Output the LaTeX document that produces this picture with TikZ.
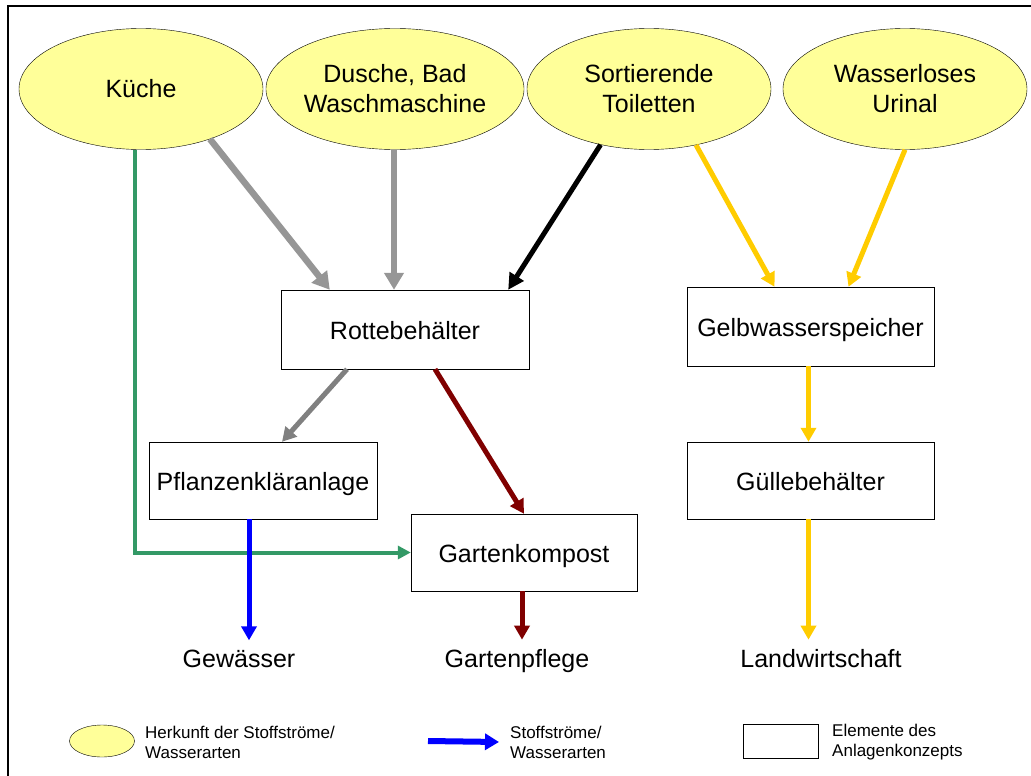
\documentclass[tikz,border=0pt]{standalone}
\usepackage{fontspec}
\setmainfont{Liberation Sans}
\usetikzlibrary{shapes.geometric,arrows.meta}
\definecolor{herkunft}{HTML}{FFFF99}
\definecolor{grauarr}{HTML}{969696}
\definecolor{dunkelgrau}{HTML}{808080}
\definecolor{gruenarr}{HTML}{339966}
\definecolor{blauarr}{HTML}{0000FF}
\definecolor{braunarr}{HTML}{800000}
\definecolor{gelbarr}{HTML}{FFCC00}
\begin{document}
\begin{tikzpicture}[x=1pt,y=-1pt,
    source/.style={ellipse,draw,fill=herkunft,minimum width=244pt,minimum height=121pt,inner sep=0pt,align=center,font=\fontsize{25}{30}\selectfont},
    element/.style={rectangle,draw,minimum width=247pt,minimum height=79pt,inner sep=2pt,text height=19pt,text depth=0pt,font=\fontsize{25}{30}\selectfont},
    sink/.style={anchor=base,inner sep=9pt,font=\fontsize{25}{30}\selectfont},
    legtext/.style={anchor=west,align=left,inner sep=2pt,font=\fontsize{17}{20}\selectfont},
    flow/.style={line width=5pt,-{Triangle[length=14pt,width=15pt]}},
    bigflow/.style={line width=6.5pt,draw=grauarr,-{Triangle[length=17pt,width=19pt]}}]
    \useasboundingbox (0,0) rectangle (1031,776);
    \draw[line width=2.5pt] (8,776) -- (8,6) -- (1031,6);
    \node[source] (kueche) at (141,89) {Küche};
    \node[source] (dusche) at (395,89) {Dusche, Bad\\Waschmaschine};
    \node[source] (toilette) at (649,89) {Sortierende\\Toiletten};
    \node[source] (urinal) at (905,89) {Wasserloses\\Urinal};
    \node[element,minimum width=248pt] (rotte) at (405,329.5) {Rottebehälter};
    \node[element,minimum width=228pt,minimum height=77pt] (pflanzen) at (263,480.5) {Pflanzenkläranlage};
    \node[element,minimum width=226pt,minimum height=77pt] (garten) at (524,552.5) {Gartenkompost};
    \node[element] (gelb) at (810.5,326.5) {Gelbwasserspeicher};
    \node[element,minimum height=77pt] (guelle) at (810.5,480.5) {Güllebehälter};
    \node[sink] (gewaesser) at (239,667) {Gewässer};
    \node[sink] (pflege) at (517,667) {Gartenpflege};
    \node[sink] (landwirt) at (821,667) {Landwirtschaft};
    \draw[flow,line width=4pt,draw=gruenarr,-{Triangle[length=13pt,width=13pt]}] ([xshift=-6pt]kueche.south) |- (garten.west);
    \draw[bigflow] (kueche.-36.5) -- ([xshift=49pt]rotte.north west);
    \draw[bigflow] ([xshift=-1pt]dusche.south) -- ([xshift=-11pt]rotte.north);
    \draw[flow,draw=black,-{Triangle[length=16pt,width=16pt]}] (toilette.-131.6) -- ([xshift=-21pt]rotte.north east);
    \draw[flow,draw=gelbarr] (toilette.-50.6) -- ([xshift=-36pt]gelb.north);
    \draw[flow,draw=gelbarr] (urinal.south) -- ([xshift=38pt]gelb.north);
    \draw[flow,draw=dunkelgrau] ([xshift=-58pt]rotte.south) -- ([xshift=19pt]pflanzen.north);
    \draw[flow,draw=braunarr] ([xshift=30pt]rotte.south) -- (garten.north);
    \draw[flow,draw=blauarr] ([xshift=10pt]pflanzen.south -| gewaesser.north) -- ([xshift=10pt]gewaesser.north);
    \draw[flow,draw=braunarr] ([xshift=-2pt]garten.south) -- ([xshift=-2pt]garten.south |- pflege.north);
    \draw[flow,draw=gelbarr] ([xshift=-2pt]gelb.south) -- ([xshift=-2pt]guelle.north);
    \draw[flow,draw=gelbarr] ([xshift=-2pt]guelle.south) -- ([xshift=-2pt]guelle.south |- landwirt.north);
    \node[source,minimum width=65pt,minimum height=32pt] (legsource) at (102,741) {};
    \node[legtext] (legsourcetext) at (143,742) {Herkunft der Stoffströme/\\Wasserarten};
    \coordinate (legflow) at (428,741);
    \node[legtext] (legflowtext) at (508,742) {Stoffströme/\\Wasserarten};
    \draw[flow,line width=6pt,draw=blauarr,-{Triangle[length=14pt,width=16pt]}] (legflow) -- ([xshift=-9pt]legflowtext.west);
    \node[element,minimum width=75pt,minimum height=34pt] (legelement) at (780.5,741) {};
    \node[legtext] (legelementtext) at (830,742) {Elemente des\\Anlagenkonzepts};
\end{tikzpicture}
\end{document}
